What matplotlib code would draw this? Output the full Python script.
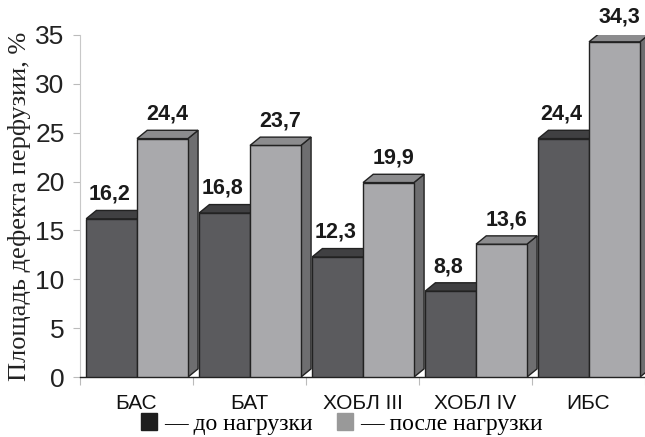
import matplotlib.pyplot as plt
from matplotlib.patches import Polygon, Patch
import numpy as np

categories = ["БАС", "БАТ", "ХОБЛ III", "ХОБЛ IV", "ИБС"]
before_load = [16.2, 16.8, 12.3, 8.8, 24.4]
after_load = [24.4, 23.7, 19.9, 13.6, 34.3]

# face colours for the pseudo-3D bars: front, top, side
dark_faces = ("#5b5b5e", "#404042", "#3a3a3c")
light_faces = ("#a9a9ac", "#8c8c8e", "#6e6e70")
edge = "#222222"

bar_w = 0.45
gap = 0.055
depth_x = 0.09
depth_y = 0.85


def draw_bar(ax, x0, h, faces):
    front, top, side = faces
    ax.add_patch(Polygon([(x0, 0), (x0 + bar_w, 0), (x0 + bar_w, h), (x0, h)],
                         closed=True, fc=front, ec=edge, lw=1.0, zorder=3))
    ax.add_patch(Polygon([(x0, h), (x0 + bar_w, h), (x0 + bar_w + depth_x, h + depth_y),
                          (x0 + depth_x, h + depth_y)],
                         closed=True, fc=top, ec=edge, lw=1.0, zorder=3))
    ax.add_patch(Polygon([(x0 + bar_w, 0), (x0 + bar_w + depth_x, depth_y),
                          (x0 + bar_w + depth_x, h + depth_y), (x0 + bar_w, h)],
                         closed=True, fc=side, ec=edge, lw=1.0, zorder=2, clip_on=False))


fig = plt.figure(figsize=(6.45, 4.37), dpi=100)
ax = fig.add_axes([0.124, 0.137, 0.876, 0.783])

for i, (b, a) in enumerate(zip(before_load, after_load)):
    xb = i + gap
    xa = xb + bar_w
    draw_bar(ax, xb, b, dark_faces)
    draw_bar(ax, xa, a, light_faces)
    for x0, v, shift in ((xb, b, -0.02), (xa, a, 0.04)):
        ax.text(x0 + bar_w / 2 + shift, v + 2.5, f"{v:.1f}".replace(".", ","),
                ha="center", va="center", fontsize=15.5, fontweight="bold",
                family="Liberation Sans", color="#1a1a1a", clip_on=False)

ax.set_xlim(0, 5)
ax.set_ylim(0, 35)
ax.set_yticks(np.arange(0, 36, 5))
ax.set_yticklabels([str(v) for v in range(0, 36, 5)], fontsize=19,
                   family="Liberation Sans", color="#222222")
ax.set_xticks(np.arange(0, 6))
ax.set_xticklabels([])
ax.set_xticks(np.arange(0.5, 5), minor=True)
ax.set_xticklabels(categories, minor=True, fontsize=15, family="Liberation Sans",
                   color="#111111")
ax.tick_params(axis="x", which="minor", length=0, pad=12)
ax.tick_params(axis="x", which="major", length=6, color="#bbbbbb", direction="out")
ax.tick_params(axis="y", length=5, color="#bbbbbb", pad=6)

for s in ("top", "right"):
    ax.spines[s].set_visible(False)
ax.spines["left"].set_color("#c8c8c8")
ax.spines["bottom"].set_color(edge)
ax.spines["bottom"].set_linewidth(1.0)

ax.set_ylabel("Площадь дефекта перфузии, %", fontsize=19, family="Liberation Serif",
              color="#222222", labelpad=3)

handles = [Patch(fc="#1e1e1e", ec="#1e1e1e"), Patch(fc="#999999", ec="#999999")]
fig.legend(handles, ["— до нагрузки", "— после нагрузки"], loc="center",
           bbox_to_anchor=(0.53, 0.03), ncol=2, frameon=False,
           prop={"family": "Liberation Serif", "size": 17},
           handlelength=0.7, handleheight=0.7, handletextpad=0.3, columnspacing=1.0,
           borderpad=0)

fig.savefig("out.png", dpi=100)
